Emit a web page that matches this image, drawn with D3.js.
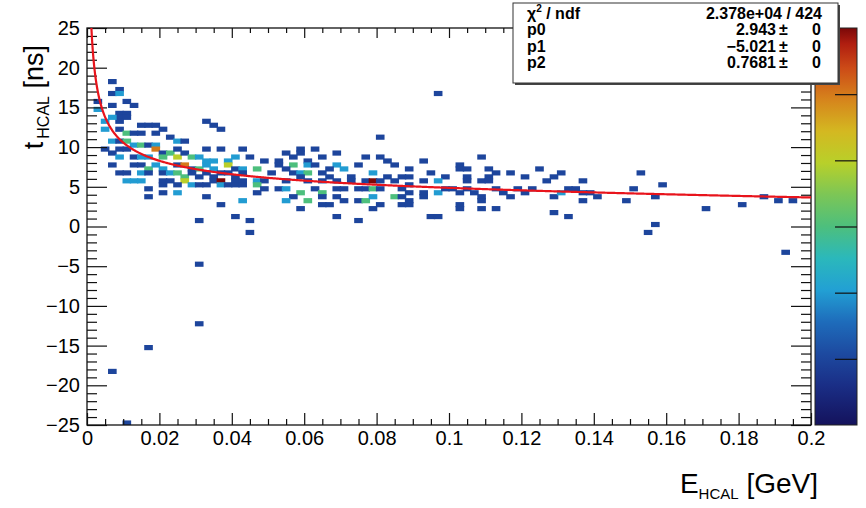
<!DOCTYPE html>
<html>
<head>
<meta charset="utf-8">
<script src="https://cdn.jsdelivr.net/npm/d3@7"></script>
<style>
  body { margin: 0; background: #fff; }
  text { font-family: "Liberation Sans", Arial, Helvetica, sans-serif; fill: #000; }
  .axis line { stroke: #111; stroke-width: 1.2; }
  .axis text { font-size: 20px; }
</style>
</head>
<body>
<svg id="chart" width="866" height="508"></svg>
<script>
// ---- histogram bins (bin centres: E in GeV, t in ns, N = entries) ----
const binE = [
  0.007,0.009,0.007,0.009,0.011,0.003,0.007,0.013,0.009,0.011,
  0.009,0.011,0.009,0.007,0.005,0.015,0.017,0.019,0.033,0.035,
  0.037,0.005,0.009,0.011,0.013,0.015,0.019,0.021,0.023,0.025,
  0.027,0.007,0.009,0.011,0.013,0.015,0.017,0.019,0.005,0.009,
  0.011,0.019,0.021,0.023,0.025,0.033,0.037,0.043,0.007,0.009,
  0.013,0.015,0.017,0.021,0.025,0.027,0.029,0.031,0.033,0.035,
  0.039,0.041,0.045,0.049,0.007,0.013,0.015,0.017,0.019,0.021,
  0.025,0.027,0.029,0.031,0.033,0.035,0.039,0.041,0.043,0.047,
  0.009,0.011,0.015,0.017,0.021,0.023,0.025,0.027,0.029,0.031,
  0.033,0.035,0.037,0.039,0.041,0.043,0.011,0.013,0.015,0.021,
  0.023,0.027,0.035,0.037,0.041,0.043,0.047,0.049,0.017,0.021,
  0.025,0.029,0.031,0.033,0.037,0.039,0.041,0.043,0.047,0.017,
  0.021,0.025,0.033,0.043,0.047,0.037,0.031,0.041,0.045,0.003,
  // 0.05 - 0.1 GeV
  0.081,0.059,0.063,0.055,0.059,0.069,0.053,0.057,0.061,0.065,
  0.077,0.081,0.093,0.053,0.057,0.061,0.063,0.069,0.075,0.083,
  0.085,0.089,0.095,0.051,0.055,0.057,0.059,0.061,0.065,0.067,
  0.071,0.073,0.079,0.083,0.087,0.089,0.093,0.055,0.059,0.061,
  0.065,0.067,0.069,0.073,0.077,0.079,0.081,0.085,0.089,0.049,
  0.053,0.055,0.059,0.063,0.065,0.069,0.071,0.075,0.077,0.079,
  0.081,0.087,0.089,0.093,0.057,0.061,0.065,0.069,0.071,0.075,
  0.077,0.079,0.085,0.087,0.089,0.093,0.059,0.065,0.067,0.079,
  0.081,0.087,0.089,0.069,0.075,0.095,0.055,0.097,
  // 0.1 - 0.14 GeV
  0.109,0.103,0.103,0.105,0.111,0.099,0.097,0.105,0.105,0.109,
  0.111,0.111,0.113,0.117,0.121,0.125,0.127,0.129,0.131,0.137,
  0.097,0.099,0.101,0.103,0.105,0.107,0.109,0.109,0.113,0.115,
  0.117,0.119,0.121,0.123,0.129,0.131,0.133,0.135,0.137,0.139,
  0.137,0.141,0.103,0.103,0.109,0.113,0.097,0.129,0.133,
  // tail and outliers
  0.153,0.151,0.159,0.149,0.157,0.171,0.181,0.187,0.191,0.195,
  0.157,0.155,0.193,
  0.007,0.011,0.017,0.031,0.031,0.045
];
const binT = [
  18.25,17.25,16.75,16.75,15.75,15.75,15.25,15.25,14.25,14.25,
  13.75,13.75,13.25,13.75,13.25,12.75,12.75,12.75,13.25,12.75,
  12.25,12.25,12.25,11.75,11.75,11.75,11.75,12.25,11.25,10.75,
  10.75,10.75,10.75,10.75,10.25,10.25,10.25,10.25,9.75,9.75,
  9.75,9.75,9.25,9.25,9.75,9.75,9.75,9.75,9.25,8.75,
  8.75,8.75,8.75,8.75,8.75,9.25,8.75,8.75,8.25,8.25,
  8.25,8.75,8.75,8.25,7.75,7.75,7.75,7.25,7.75,7.25,
  7.75,7.75,7.25,7.25,7.75,7.25,7.75,7.25,7.25,7.25,
  6.75,6.75,6.75,6.75,6.75,6.75,6.75,6.25,6.75,6.25,
  6.75,6.25,6.75,6.75,6.25,6.75,5.75,5.75,5.75,5.75,
  5.75,5.75,5.75,5.75,5.75,5.75,5.75,5.75,4.75,5.25,
  5.25,5.25,5.25,5.25,5.25,5.25,5.25,5.25,5.25,3.75,
  4.25,4.25,3.75,3.25,4.25,2.75,0.75,1.25,0.75,14.75,
  11.25,9.75,9.75,9.25,9.25,9.25,8.25,8.75,8.25,8.75,
  8.75,8.75,8.25,7.75,7.75,7.75,7.75,7.75,7.75,8.25,
  7.75,7.25,6.75,6.75,7.25,6.75,6.75,6.75,6.75,7.25,
  7.25,6.25,6.75,6.25,6.25,6.25,5.75,5.75,6.25,5.75,
  5.75,6.25,5.75,5.75,5.75,5.75,5.75,5.75,5.25,4.75,
  4.75,4.75,4.25,4.75,4.25,4.75,4.75,4.75,4.75,4.75,
  4.75,4.75,4.25,4.25,3.75,3.25,3.75,3.75,3.25,3.25,
  3.25,3.75,3.75,3.75,3.25,3.75,2.25,2.75,2.75,2.25,
  2.75,2.75,2.75,1.25,0.75,1.25,3.25,16.75,
  8.75,7.75,7.25,7.25,7.25,6.25,5.75,6.25,5.75,5.75,
  6.25,5.75,6.75,6.75,6.25,7.25,5.75,6.25,6.75,5.75,
  4.25,4.75,4.75,4.25,4.75,4.25,3.75,3.25,4.75,4.25,
  3.75,4.75,4.25,4.75,3.75,4.25,4.75,4.75,4.25,4.25,
  3.25,3.75,2.75,2.25,2.25,2.25,1.25,1.75,1.25,
  6.75,4.75,5.25,3.25,3.75,2.25,2.75,3.75,3.25,3.25,
  0.25,-0.75,-3.25,
  -18.25,-24.75,-15.25,-12.25,-4.75,-0.75
];
const binN = [
  1,1,1,2,1,1,1,1,1,1,
  1,1,1,2,2,1,1,1,1,1,
  1,2,1,3,1,1,1,1,1,2,
  1,2,1,3,2,3,1,2,1,1,
  1,5,1,3,1,1,1,1,1,2,
  1,2,2,3,4,1,3,2,2,2,
  2,2,1,1,1,1,1,3,2,2,
  1,5,1,3,2,2,4,1,2,3,
  1,1,2,1,1,2,3,3,1,1,
  1,1,1,1,1,1,2,2,2,1,
  1,4,1,6,1,1,2,1,1,1,
  1,2,1,1,2,1,1,1,3,1,
  1,2,1,2,1,1,1,1,1,2,
  1,1,1,1,1,1,1,1,1,1,
  1,1,1,1,3,2,1,2,1,1,
  1,1,1,1,1,1,2,3,1,1,
  2,1,2,1,1,1,1,1,1,1,
  1,1,1,1,1,6,1,1,1,1,
  1,2,3,1,3,1,1,1,1,3,
  1,1,1,1,1,3,1,1,1,1,
  3,2,3,1,1,1,1,1,1,1,
  1,1,1,1,1,1,2,1,
  1,1,1,1,1,1,2,1,1,1,
  1,1,1,1,1,1,1,1,1,1,
  2,1,1,1,1,1,1,1,1,1,
  1,1,1,1,1,2,1,1,1,1,
  1,1,1,1,1,1,1,1,1,
  1,1,1,1,1,1,1,1,1,1,
  1,1,1,
  1,1,1,1,1,1
];
const binWidthE = 0.002;
const binWidthT = 0.5;

// ---- fit: t = p0 + p1*E + p2/sqrt(E) ----
const fitNames = ['p0', 'p1', 'p2'];
const fitValues = ['2.943', '\u22125.021', '0.7681'];
const fitErrors = ['0', '0', '0'];
const fitPars = [2.943, -5.021, 0.7681];
const chi2Text = '2.378e+04 / 424';

// ---- axes ----
const xDomain = [0, 0.2];
const yDomain = [-25, 25];
const xMajor = [0, 0.02, 0.04, 0.06, 0.08, 0.1, 0.12, 0.14, 0.16, 0.18, 0.2];
const yMajor = [-25, -20, -15, -10, -5, 0, 5, 10, 15, 20, 25];
const zMax = 6;
const zTicks = [1, 2, 3, 4, 5];

// palette (fraction of zMax -> colour), ROOT style rainbow
const paletteStops = [0, 0.10, 0.18, 0.26, 0.34, 0.42, 0.50, 0.58, 0.66, 0.74, 0.82, 0.90, 0.96, 1];
const paletteColors = ['#14125c', '#1a2e86', '#1d4aa0', '#1e6cbb', '#22a0d4', '#2bb8bb', '#4dbf7d',
  '#7cc656', '#b8d02a', '#d4b821', '#d6841c', '#cc4a17', '#b01e10', '#7a0808'];

const frame = {left: 87, right: 811, top: 28, bottom: 425};
const svg = d3.select('#chart');

const x = d3.scaleLinear().domain(xDomain).range([frame.left, frame.right]);
const y = d3.scaleLinear().domain(yDomain).range([frame.bottom, frame.top]);
const palette = d3.scaleLinear().domain(paletteStops).range(paletteColors).interpolate(d3.interpolateRgb);

svg.append('defs').append('clipPath').attr('id', 'plotclip')
  .append('rect')
    .attr('x', frame.left).attr('y', frame.top)
    .attr('width', frame.right - frame.left).attr('height', frame.bottom - frame.top);

// bins (drawn a touch larger, like the soft rendering of the original)
const padX = 0.7, padY = 0.6;
const bins = binE.map((e, i) => ({e: e, t: binT[i], n: binN[i]}));
svg.append('g').attr('clip-path', 'url(#plotclip)').selectAll('rect')
    .data(bins)
  .join('rect')
    .attr('x', d => x(d.e - binWidthE / 2) - padX)
    .attr('y', d => y(d.t + binWidthT / 2) - padY)
    .attr('width', d => x(d.e + binWidthE / 2) - x(d.e - binWidthE / 2) + 2 * padX)
    .attr('height', d => y(d.t - binWidthT / 2) - y(d.t + binWidthT / 2) + 2 * padY)
    .attr('fill', d => palette(d.n / zMax));

// axes with ticks inside the frame
const fmtX = d => String(+d.toFixed(3));
const xMinor = d3.range(0, 0.2001, 0.005).filter(v => xMajor.every(m => Math.abs(m - v) > 1e-6));
const yMinor = d3.range(-25, 25.01, 1).filter(v => v % 5 !== 0);

function addAxis(axis, tx, ty, hasLabels) {
  const g = svg.append('g').attr('class', 'axis')
    .attr('transform', `translate(${tx},${ty})`)
    .call(axis);
  g.select('.domain').remove();
  if (!hasLabels) g.selectAll('text').remove();
  return g;
}

addAxis(d3.axisBottom(x).tickValues(xMajor).tickSize(-12).tickPadding(6).tickFormat(fmtX), 0, frame.bottom, true);
addAxis(d3.axisBottom(x).tickValues(xMinor).tickSize(-6), 0, frame.bottom, false);
addAxis(d3.axisTop(x).tickValues(xMajor).tickSize(-10), 0, frame.top, false);
addAxis(d3.axisTop(x).tickValues(xMinor).tickSize(-5), 0, frame.top, false);
addAxis(d3.axisLeft(y).tickValues(yMajor).tickSize(-20).tickPadding(7), frame.left, 0, true);
addAxis(d3.axisLeft(y).tickValues(yMinor).tickSize(-10), frame.left, 0, false);
addAxis(d3.axisRight(y).tickValues(yMajor).tickSize(-20), frame.right, 0, false);
addAxis(d3.axisRight(y).tickValues(yMinor).tickSize(-10), frame.right, 0, false);

svg.append('rect')
    .attr('x', frame.left).attr('y', frame.top)
    .attr('width', frame.right - frame.left).attr('height', frame.bottom - frame.top)
    .attr('fill', 'none').attr('stroke', '#111').attr('stroke-width', 1.3);

// fit curve
const fitF = e => fitPars[0] + fitPars[1] * e + fitPars[2] / Math.sqrt(e);
const eSamples = d3.range(0.0008, 0.2, 0.0002).concat([0.2]);
svg.append('path')
    .datum(eSamples)
    .attr('clip-path', 'url(#plotclip)')
    .attr('fill', 'none')
    .attr('stroke', '#e8141c')
    .attr('stroke-width', 2.2)
    .attr('d', d3.line().x(e => x(e)).y(e => y(fitF(e))));

// colour palette bar
const bar = {x: 815, w: 42};
const z = d3.scaleLinear().domain([0, zMax]).range([frame.bottom, frame.top]);
const grad = svg.select('defs').append('linearGradient')
    .attr('id', 'palgrad').attr('x1', 0).attr('y1', 1).attr('x2', 0).attr('y2', 0);
grad.selectAll('stop')
    .data(paletteStops)
  .join('stop')
    .attr('offset', d => d)
    .attr('stop-color', (d, i) => paletteColors[i]);
svg.append('rect')
    .attr('x', bar.x).attr('y', frame.top)
    .attr('width', bar.w).attr('height', frame.bottom - frame.top)
    .attr('fill', 'url(#palgrad)')
    .attr('stroke', '#222').attr('stroke-width', 1);
addAxis(d3.axisLeft(z).tickValues(zTicks).tickSize(22), bar.x + bar.w, 0, false);

// axis titles
const yTitle = svg.append('text')
    .attr('transform', 'translate(43,45) rotate(-90)')
    .attr('text-anchor', 'end')
    .style('font-size', '27px');
yTitle.append('tspan').text('t');
yTitle.append('tspan').attr('dx', 3).attr('dy', 6).style('font-size', '16px').text('HCAL');
yTitle.append('tspan').attr('dy', -6).text('\u00a0[ns]');

const xTitle = svg.append('text')
    .attr('x', 818).attr('y', 493)
    .attr('text-anchor', 'end')
    .style('font-size', '28px');
xTitle.append('tspan').text('E');
xTitle.append('tspan').attr('dy', 6).style('font-size', '15px').text('HCAL');
xTitle.append('tspan').attr('dy', -6).text('\u00a0[GeV]');

// fit statistics box
const box = {x: 513, y: 3, w: 325, h: 80};
svg.append('rect')
    .attr('x', box.x + 2).attr('y', box.y + 2).attr('width', box.w).attr('height', box.h)
    .attr('fill', '#444');
svg.append('rect')
    .attr('x', box.x).attr('y', box.y).attr('width', box.w).attr('height', box.h)
    .attr('fill', '#fff').attr('stroke', '#333').attr('stroke-width', 1);

const stats = svg.append('g').style('font-size', '16px').style('font-weight', 'bold');
const rowY = [18.5, 35, 51.5, 68];
const chi = stats.append('text').attr('x', 527).attr('y', rowY[0]);
chi.append('tspan').text('\u03c7');
chi.append('tspan').attr('dy', -7).style('font-size', '10px').text('2');
chi.append('tspan').attr('dy', 7).text(' / ndf');
stats.append('text').attr('x', 822).attr('y', rowY[0]).attr('text-anchor', 'end').text(chi2Text);

fitNames.forEach((name, i) => {
  const yy = rowY[i + 1];
  stats.append('text').attr('x', 527).attr('y', yy).text(name);
  stats.append('text').attr('x', 776).attr('y', yy).attr('text-anchor', 'end').text(fitValues[i]);
  stats.append('text').attr('x', 779).attr('y', yy).text('\u00b1');
  stats.append('text').attr('x', 821).attr('y', yy).attr('text-anchor', 'end').text(fitErrors[i]);
});
</script>
</body>
</html>
